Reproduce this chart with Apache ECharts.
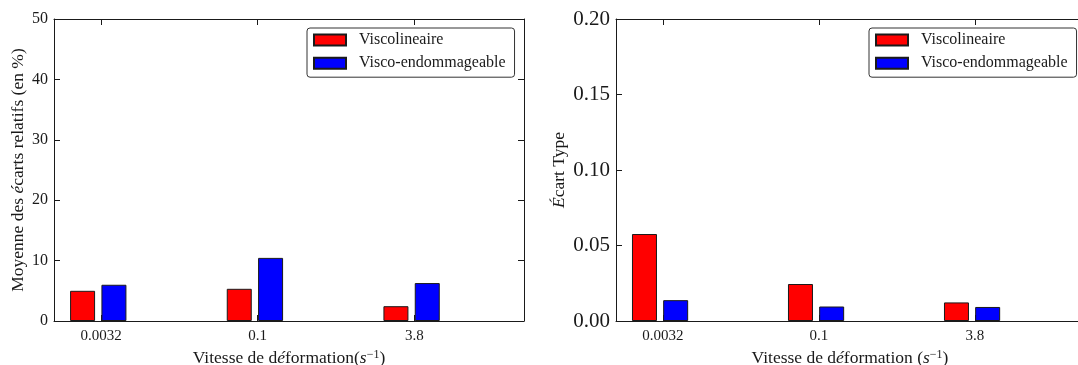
<!DOCTYPE html>
<html>
<head>
<meta charset="utf-8">
<script src="https://cdn.jsdelivr.net/npm/echarts@6/dist/echarts.min.js"></script>
<style>
html,body{margin:0;padding:0;background:#fff;}
#chart{width:1078px;height:365px;}
</style>
</head>
<body>
<div id="chart"></div>
<script>
// ---- data ----
const categories = ['0.0032', '0.1', '3.8'];
const seriesNames = ['Viscolineaire', 'Visco-endommageable'];
const meanVisco = [5.0, 5.33, 2.45];
const meanEndo = [6.0, 10.45, 6.28];
const stdVisco = [0.0576, 0.0245, 0.0123];
const stdEndo = [0.0138, 0.0096, 0.0093];
const categoryPositions = [0, 1, 2];

// ---- style ----
const FONT = '"Liberation Serif", "DejaVu Serif", serif';
const INK = '#1a1a1a';
const NAME_SIZE = 17.5;
const OFF_RED = -0.1175, OFF_BLUE = 0.0825;
const rich = {
  i: {fontStyle: 'italic', fontFamily: FONT, fontSize: NAME_SIZE, color: INK},
  sup: {fontFamily: FONT, fontSize: 12, color: INK, padding: [0, 0, 8, 0]}
};

function xAxes(gridIndex, nameText) {
  return [{
    type: 'value', gridIndex, min: -0.3, max: 2.7, position: 'bottom',
    axisLine: {show: true, onZero: false, lineStyle: {color: INK, width: 1}},
    axisTick: {show: true, inside: true, length: 6, customValues: categoryPositions, lineStyle: {color: INK}},
    axisLabel: {show: true, customValues: categoryPositions, margin: 8, fontFamily: FONT, fontSize: 15, color: INK,
      formatter: v => categories[Math.round(v)]},
    splitLine: {show: false},
    name: nameText, nameLocation: 'middle', nameGap: 18,
    nameTextStyle: {fontFamily: FONT, fontSize: NAME_SIZE, color: INK, rich}
  }, {
    type: 'value', gridIndex, min: -0.3, max: 2.7, position: 'top',
    axisLine: {show: true, onZero: false, lineStyle: {color: INK, width: 1}},
    axisTick: {show: true, inside: true, length: 6, customValues: categoryPositions, lineStyle: {color: INK}},
    axisLabel: {show: false}, splitLine: {show: false}
  }];
}
function yAxes(gridIndex, max, interval, labelSize, fmt, nameText, nameGap) {
  return [{
    type: 'value', gridIndex, min: 0, max, interval, position: 'left',
    axisLine: {show: true, onZero: false, lineStyle: {color: INK, width: 1}},
    axisTick: {show: true, inside: true, length: 6, lineStyle: {color: INK}},
    axisLabel: {fontFamily: FONT, fontSize: labelSize, color: INK, margin: 6, formatter: fmt},
    splitLine: {show: false},
    name: nameText, nameLocation: 'middle', nameGap, nameRotate: 90,
    nameTextStyle: {fontFamily: FONT, fontSize: NAME_SIZE, color: INK, rich}
  }, {
    type: 'value', gridIndex, min: 0, max, interval, position: 'right',
    axisLine: {show: true, onZero: false, lineStyle: {color: INK, width: 1}},
    axisTick: {show: true, inside: true, length: 6, lineStyle: {color: INK}},
    axisLabel: {show: false}, splitLine: {show: false}
  }];
}
function barSeries(name, values, offset, color, xi, yi, gap) {
  return {
    type: 'bar', name, xAxisIndex: xi, yAxisIndex: yi,
    data: values.map((v, k) => [categoryPositions[k] + offset, v]),
    barWidth: 25, barGap: gap,
    itemStyle: {color, borderColor: INK, borderWidth: 1},
    emphasis: {disabled: true}, animation: false
  };
}
function legend(left) {
  return {
    data: seriesNames, orient: 'vertical', left, top: 28,
    itemWidth: 32, itemHeight: 11, itemGap: 7.2,
    padding: [4, 9, 6, 6],
    borderColor: '#333', borderWidth: 1, borderRadius: 3,
    icon: 'rect',
    textStyle: {fontFamily: FONT, fontSize: 16, color: INK, lineHeight: 13, padding: [0, 0, 0, 8]},
    selectedMode: false
  };
}

const xa = [...xAxes(0, 'Vitesse de d{i|é}formation({i|s}{sup|−1})'),
            ...xAxes(1, 'Vitesse de d{i|é}formation ({i|s}{sup|−1})')];
const ya = [...yAxes(0, 50, 10, 16, v => String(v), 'Moyenne des {i|é}carts relatifs (en %)', 27),
            ...yAxes(1, 0.2, 0.05, 21, v => v.toFixed(2), '{i|É}cart Type', 48)];

const option = {
  animation: false,
  grid: [
    {left: 54, top: 19, width: 470, height: 302, outerBoundsMode: 'none', containLabel: false},
    {left: 616, top: 19, width: 468, height: 302, outerBoundsMode: 'none', containLabel: false}
  ],
  xAxis: xa,
  yAxis: ya,
  legend: [legend(307), legend(869)],
  series: [
    barSeries(seriesNames[0], meanVisco, OFF_RED, '#ff0000', 0, 0, '-100%'),
    barSeries(seriesNames[1], meanEndo, OFF_BLUE, '#0000ff', 0, 0, '-100%'),
    barSeries(seriesNames[0], stdVisco, OFF_RED, '#ff0000', 2, 2, '-100%'),
    barSeries(seriesNames[1], stdEndo, OFF_BLUE, '#0000ff', 2, 2, '-100%')
  ]
};
const chart = echarts.init(document.getElementById('chart'), null, {renderer: 'canvas'});
chart.setOption(option);
</script>
</body>
</html>
